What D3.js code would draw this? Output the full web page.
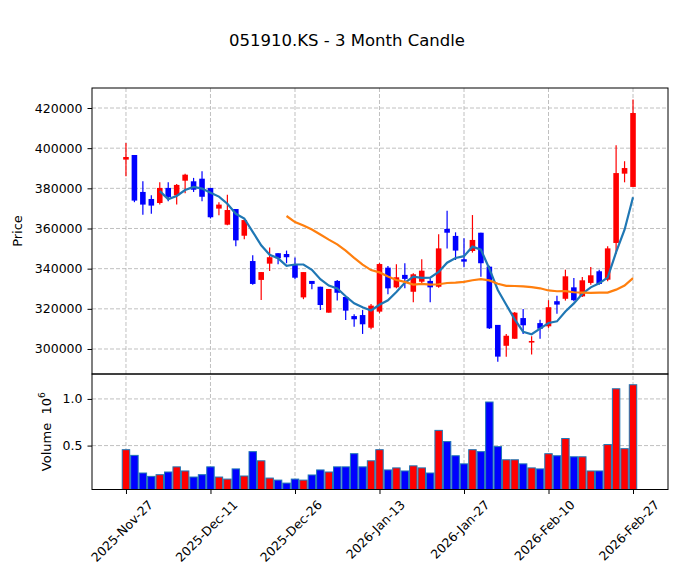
<!DOCTYPE html>
<html>
<head>
<meta charset="utf-8">
<script src="https://cdn.jsdelivr.net/npm/d3@7"></script>
<style>
  body { margin: 0; background: #fff; }
  svg { display: block; font-family: "DejaVu Sans", sans-serif; }
</style>
</head>
<body>
<div id="chart"></div>
<script>
const dates = [
  '2025-11-27', '2025-11-28', '2025-12-01', '2025-12-02', '2025-12-03', '2025-12-04', '2025-12-05',
  '2025-12-08', '2025-12-09', '2025-12-10', '2025-12-11', '2025-12-12', '2025-12-15', '2025-12-16',
  '2025-12-17', '2025-12-18', '2025-12-19', '2025-12-22', '2025-12-23', '2025-12-24', '2025-12-26',
  '2025-12-29', '2025-12-30', '2026-01-02', '2026-01-05', '2026-01-06', '2026-01-07', '2026-01-08',
  '2026-01-09', '2026-01-12', '2026-01-13', '2026-01-14', '2026-01-15', '2026-01-16', '2026-01-19',
  '2026-01-20', '2026-01-21', '2026-01-22', '2026-01-23', '2026-01-26', '2026-01-27', '2026-01-28',
  '2026-01-29', '2026-01-30', '2026-02-02', '2026-02-03', '2026-02-04', '2026-02-05', '2026-02-06',
  '2026-02-09', '2026-02-10', '2026-02-11', '2026-02-12', '2026-02-13', '2026-02-19', '2026-02-20',
  '2026-02-23', '2026-02-24', '2026-02-25', '2026-02-26', '2026-02-27',
];
const opens = [
  394300, 396600, 378200, 374700, 372700, 380200, 376500, 383800, 383500, 384800,
  380200, 369900, 361900, 369700, 356400, 343800, 334400, 342500, 347700, 347300,
  341800, 325700, 333900, 331000, 318100, 333900, 325900, 316400, 316900, 310600,
  318600, 340500, 330700, 336900, 328500, 333500, 333900, 331000, 359800, 356300,
  344700, 348800, 357900, 341000, 312000, 301600, 305100, 315400, 303200, 312900,
  311300, 323800, 325000, 330700, 326200, 332900, 338700, 334500, 352800, 387300,
  380700,
];
const highs = [
  402600, 396600, 383500, 376500, 383000, 383000, 382200, 387200, 385200, 388500,
  380200, 373100, 376800, 369700, 364500, 346700, 338300, 350600, 347700, 349000,
  345500, 338300, 333900, 331000, 329900, 334400, 325900, 317300, 319400, 322400,
  342800, 341300, 342200, 342700, 337700, 344700, 335200, 357100, 368900, 358100,
  355100, 366700, 357900, 341500, 312000, 307500, 318400, 319900, 306300, 314600,
  324300, 326500, 339500, 335400, 335900, 340800, 339500, 351100, 401400, 393500,
  424200,
];
const lows = [
  386000, 373100, 366900, 367400, 372000, 373600, 371900, 377500, 378200, 373600,
  365000, 366600, 361600, 351100, 354600, 332000, 324400, 338800, 342200, 342700,
  334700, 324800, 329700, 319400, 318100, 324100, 314400, 311100, 307500, 309800,
  317800, 327200, 330200, 330200, 323300, 331900, 323300, 330500, 350100, 344300,
  340700, 348000, 336000, 310000, 293700, 296200, 305100, 307500, 297200, 305100,
  310500, 317600, 324100, 323800, 325900, 332000, 332000, 333700, 347300, 383000,
  380700,
];
const closes = [
  395600, 373900, 371900, 371400, 380200, 375700, 381700, 386800, 379300, 375800,
  365600, 371900, 369200, 354100, 364200, 332400, 338300, 345700, 345200, 345700,
  335500, 338300, 332400, 321900, 329900, 328000, 319100, 314800, 312300, 321600,
  342300, 330200, 335700, 334900, 337200, 339000, 330700, 350100, 357900, 349000,
  343500, 354300, 342700, 310300, 296200, 306600, 318100, 311800, 304000, 310100,
  320800, 322100, 336200, 324300, 334200, 336700, 332400, 350100, 387600, 390100,
  417500,
];
const volumes = [
  456000, 395000, 206000, 170000, 188000, 217000, 272000, 228000, 163000, 188000,
  272000, 163000, 141000, 250000, 174000, 435000, 337000, 152000, 130000, 98000,
  141000, 130000, 185000, 239000, 217000, 272000, 272000, 413000, 272000, 337000,
  456000, 239000, 261000, 228000, 283000, 261000, 206000, 663000, 543000, 391000,
  304000, 456000, 435000, 967000, 489000, 348000, 348000, 304000, 261000, 250000,
  413000, 391000, 576000, 380000, 380000, 228000, 228000, 511000, 1109000, 467000,
  1152000,
];
const mavs = [5, 20];
const mavColors = ['#1f77b4', '#ff7f0e'];
const priceTicks = [300000, 320000, 340000, 360000, 380000, 400000, 420000];
const volumeTicks = [500000, 1000000];
const dateTicks = [0, 10, 20, 30, 40, 50, 60];

const width = 679;
const height = 582;
const left = 92;
const right = 668;
const priceTop = 88;
const priceBottom = 374;
const volBottom = 489.5;

const upColor = '#ff0000';
const downColor = '#0000ff';
const gridColor = '#b0b0b0';

const parse = d3.timeParse('%Y-%m-%d');
const fmtDate = d3.timeFormat('%Y-%b-%d');

const data = dates.map((d, i) => ({
  i,
  date: parse(d),
  o: opens[i],
  h: highs[i],
  l: lows[i],
  c: closes[i],
  v: volumes[i],
}));

const svg = d3.select('#chart').append('svg')
  .attr('width', width)
  .attr('height', height);

const x = d3.scaleLinear()
  .domain([-4.02, 64.14])
  .range([left, right]);
const step = x(1) - x(0);

const y = d3.scaleLinear()
  .domain([287550, 429960])
  .range([priceBottom, priceTop]);

const yv = d3.scaleLinear()
  .domain([0.3 * d3.min(volumes), 1.1 * d3.max(volumes)])
  .range([volBottom, priceBottom]);

// grid
const grid = svg.append('g')
  .attr('stroke', gridColor)
  .attr('stroke-width', 0.8)
  .attr('stroke-dasharray', '4,2');

grid.selectAll('.gx')
  .data(dateTicks)
  .join('line')
  .attr('x1', (d) => x(d))
  .attr('x2', (d) => x(d))
  .attr('y1', priceTop)
  .attr('y2', volBottom);

grid.selectAll('.gy')
  .data(priceTicks)
  .join('line')
  .attr('class', 'gy')
  .attr('x1', left)
  .attr('x2', right)
  .attr('y1', (d) => y(d))
  .attr('y2', (d) => y(d));

grid.selectAll('.gv')
  .data(volumeTicks)
  .join('line')
  .attr('class', 'gv')
  .attr('x1', left)
  .attr('x2', right)
  .attr('y1', (d) => yv(d))
  .attr('y2', (d) => yv(d));

// volume bars
svg.append('g')
  .selectAll('rect')
  .data(data)
  .join('rect')
  .attr('x', (d) => x(d.i) - step * 0.44)
  .attr('width', step * 0.88)
  .attr('y', (d) => yv(d.v))
  .attr('height', (d) => volBottom - yv(d.v))
  .attr('fill', (d) => (d.c >= d.o ? upColor : downColor))
  .attr('stroke', '#1f77b4')
  .attr('stroke-width', 1);

// candles
const candles = svg.append('g');
candles.selectAll('line')
  .data(data)
  .join('line')
  .attr('x1', (d) => x(d.i))
  .attr('x2', (d) => x(d.i))
  .attr('y1', (d) => y(d.h))
  .attr('y2', (d) => y(d.l))
  .attr('stroke', (d) => (d.c >= d.o ? upColor : downColor))
  .attr('stroke-width', 1.2);

candles.selectAll('rect')
  .data(data)
  .join('rect')
  .attr('x', (d) => x(d.i) - step * 0.33)
  .attr('width', step * 0.66)
  .attr('y', (d) => y(Math.max(d.o, d.c)))
  .attr('height', (d) => Math.max(1, Math.abs(y(d.o) - y(d.c))))
  .attr('fill', (d) => (d.c >= d.o ? upColor : downColor));

// moving averages
mavs.forEach((n, k) => {
  const pts = data.slice(n - 1).map((d) => ({
    i: d.i,
    m: d3.mean(closes.slice(d.i - n + 1, d.i + 1)),
  }));
  svg.append('path')
    .datum(pts)
    .attr('fill', 'none')
    .attr('stroke', mavColors[k])
    .attr('stroke-width', 2.2)
    .attr('d', d3.line().x((d) => x(d.i)).y((d) => y(d.m)));
});

// frames
svg.append('rect')
  .attr('x', left).attr('y', priceTop)
  .attr('width', right - left).attr('height', priceBottom - priceTop)
  .attr('fill', 'none').attr('stroke', '#000').attr('stroke-width', 1);
svg.append('rect')
  .attr('x', left).attr('y', priceBottom)
  .attr('width', right - left).attr('height', volBottom - priceBottom)
  .attr('fill', 'none').attr('stroke', '#000').attr('stroke-width', 1);

// y axes
const yAxis = svg.append('g')
  .attr('transform', `translate(${left},0)`)
  .call(d3.axisLeft(y).tickValues(priceTicks).tickFormat(d3.format('d')).tickSize(4.5).tickPadding(5));
const vAxis = svg.append('g')
  .attr('transform', `translate(${left},0)`)
  .call(d3.axisLeft(yv).tickValues(volumeTicks).tickFormat((d) => (d / 1e6).toFixed(1)).tickSize(4.5).tickPadding(5));

[yAxis, vAxis].forEach((ax) => {
  ax.select('.domain').remove();
  ax.selectAll('text')
    .attr('font-size', 12.5)
    .attr('font-family', '"DejaVu Sans", sans-serif')
    .attr('fill', '#000');
});

// x axis with rotated labels
const xAxis = svg.append('g')
  .attr('transform', `translate(0,${volBottom})`)
  .call(d3.axisBottom(x).tickValues(dateTicks).tickSize(4.5).tickFormat(''));
xAxis.select('.domain').remove();

const labelTop = volBottom + 4.5 + 4;
dateTicks.forEach((t) => {
  const txt = svg.append('text')
    .attr('font-size', 12.5)
    .attr('text-anchor', 'end')
    .attr('dominant-baseline', 'central')
    .text(fmtDate(data[t].date));
  const L = txt.node().getComputedTextLength();
  const h = 12.5;
  txt.attr('transform', `translate(${x(t) + 0.354 * L - 4},${labelTop + 0.354 * h}) rotate(-45)`);
});

// axis labels
svg.append('text')
  .attr('transform', `translate(22,${(priceTop + priceBottom) / 2}) rotate(-90)`)
  .attr('text-anchor', 'middle')
  .attr('font-size', 13)
  .text('Price');

const vl = svg.append('text')
  .attr('transform', `translate(51,${(priceBottom + volBottom) / 2}) rotate(-90)`)
  .attr('text-anchor', 'middle')
  .attr('font-size', 13);
vl.append('tspan').text('Volume\u00a0\u00a010');
vl.append('tspan').attr('font-size', 9).attr('dy', -6).text('6');

// title
svg.append('text')
  .attr('x', 347)
  .attr('y', 46)
  .attr('text-anchor', 'middle')
  .attr('font-size', 16.5)
  .text('051910.KS - 3 Month Candle');
</script>
</body>
</html>
